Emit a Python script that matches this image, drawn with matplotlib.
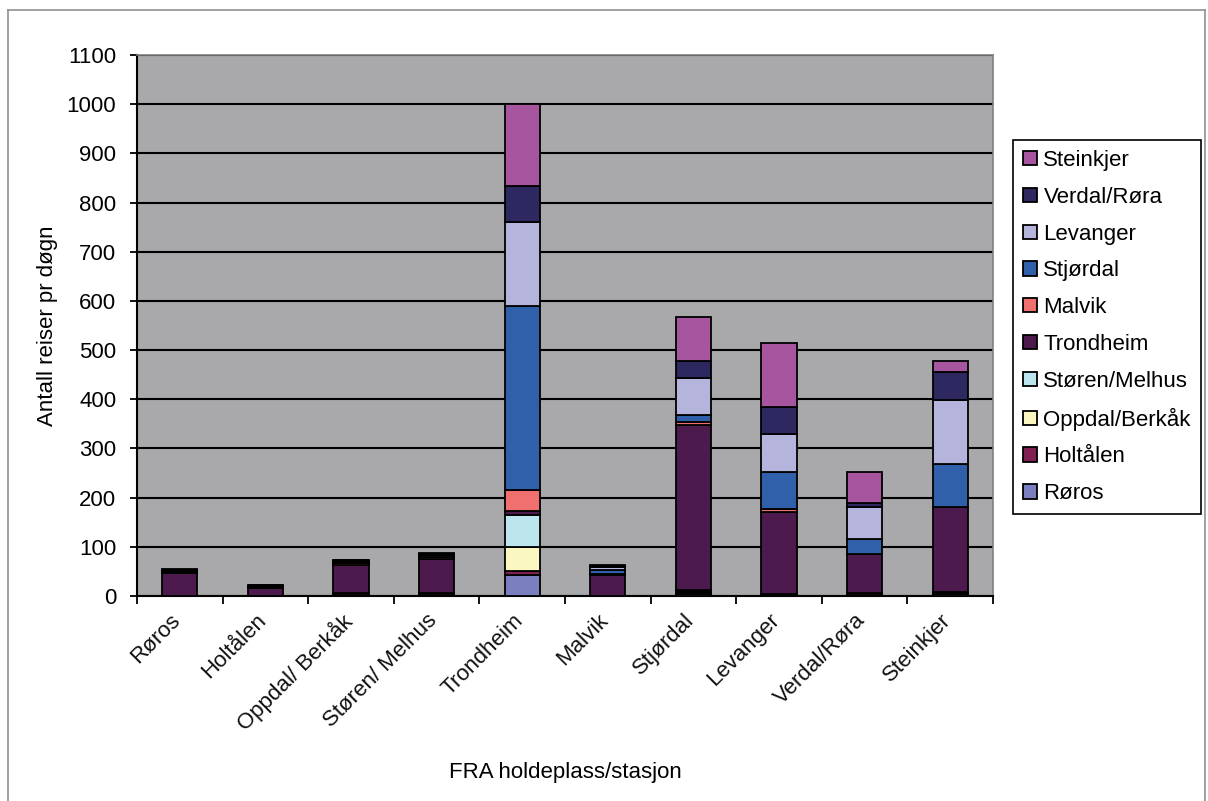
import matplotlib
matplotlib.use("Agg")
import matplotlib.pyplot as plt
import matplotlib.transforms as mtransforms
import numpy as np
from matplotlib.patches import Rectangle
from matplotlib.lines import Line2D

plt.rcParams['font.family'] = ['Liberation Sans', 'DejaVu Sans']

# FRA stations (x categories)
categories = ["Røros", "Holtålen", "Oppdal/ Berkåk", "Støren/ Melhus", "Trondheim",
              "Malvik", "Stjørdal", "Levanger", "Verdal/Røra", "Steinkjer"]

# Destination series (stacked bottom to top)
series_names = ["Røros", "Holtålen", "Oppdal/Berkåk", "Støren/Melhus", "Trondheim",
                "Malvik", "Stjørdal", "Levanger", "Verdal/Røra", "Steinkjer"]

roros      = [0, 0, 3, 3, 43, 1, 4, 3, 3, 4]
holtalen   = [0, 0, 3, 3, 8, 0, 4, 2, 3, 4]
oppdal     = [0, 0, 0, 1, 49, 0, 2, 0, 0, 0]
storen     = [0, 0, 0, 0, 65, 0, 2, 0, 0, 0]
trondheim  = [47, 16, 58, 69, 8, 41, 336, 166, 79, 173]
malvik     = [2, 2, 3, 3, 43, 2, 6, 6, 0, 0]
stjordal   = [2, 2, 3, 4, 373, 9, 15, 76, 31, 88]
levanger   = [1, 1, 2, 2, 171, 6, 75, 77, 65, 130]
verdal     = [1, 1, 1, 1, 73, 2, 33, 55, 8, 57]
steinkjer  = [1, 1, 1, 1, 167, 2, 91, 130, 64, 21]

yticks = list(range(0, 1101, 100))

colors = ["#7B7FC0", "#7F2050", "#FAF7C0", "#BDE5EE", "#4D1A4E",
          "#F07070", "#3060AA", "#B4B4DC", "#2E2860", "#A855A0"]

series = [roros, holtalen, oppdal, storen, trondheim, malvik, stjordal, levanger, verdal, steinkjer]

fig = plt.figure(figsize=(12.08, 8.01), dpi=100)
ax = fig.add_axes([137/1208, 1-596/801, (993-137)/1208, (596-55)/801])
ax.set_facecolor("#A9A9AB")

x = np.arange(len(categories))
bottom = np.zeros(len(categories))
for name, vals, c in zip(series_names, series, colors):
    v = np.array(vals, dtype=float)
    ax.bar(x, v, bottom=bottom, width=0.41, color=c, edgecolor="black",
           linewidth=1.3, label=name, zorder=3)
    bottom += v

ax.set_xlim(-0.5, len(categories) - 0.5)
ax.set_ylim(0, 1100)
ax.set_yticks(yticks)
ax.yaxis.grid(True, color="black", linewidth=1.5, zorder=1)
ax.set_axisbelow(True)
for s in ["top", "right"]:
    ax.spines[s].set_color("#808080")
    ax.spines[s].set_linewidth(1.2)
for s in ["left", "bottom"]:
    ax.spines[s].set_color("black")
    ax.spines[s].set_linewidth(1.5)

ax.tick_params(axis="y", direction="out", length=5, width=1.3, pad=10, labelsize=16)
ax.set_xticks(x)
ax.set_xticklabels(categories, rotation=45, ha="right", va="top",
                   rotation_mode="anchor", fontsize=16, color="#111111")
ax.tick_params(axis="x", length=0, pad=10)
offset = mtransforms.ScaledTranslation(-10/100, 0/100, fig.dpi_scale_trans)
for lab in ax.get_xticklabels():
    lab.set_transform(lab.get_transform() + offset)
ax.set_xticks(np.arange(-0.5, len(categories), 1), minor=True)
ax.tick_params(axis="x", which="minor", direction="out", length=6, width=1.3)

ax.set_ylabel("Antall reiser pr døgn", fontsize=16)
ax.yaxis.set_label_coords(-(137-58)/856, 0.5, transform=ax.transAxes)
ax.set_xlabel("FRA holdeplass/stasjon", fontsize=16)
ax.xaxis.set_label_coords(0.5, -(762-596)/541, transform=ax.transAxes)

leg_handles = [Rectangle((0, 0), 1, 1, facecolor=c, edgecolor="black", linewidth=1.3)
               for c in colors][::-1]
leg = fig.legend(leg_handles, series_names[::-1], loc="upper left",
                 bbox_to_anchor=(1013/1208, 1-140/801), bbox_transform=fig.transFigure,
                 borderaxespad=0, fontsize=16, frameon=True, fancybox=False,
                 edgecolor="black", framealpha=1, handlelength=0.62, handleheight=0.62,
                 handletextpad=0.3, labelspacing=0.71, borderpad=0.45)
leg.get_frame().set_linewidth(1.2)

# Outer border
fig.add_artist(Line2D([8/1208, 8/1208], [0, 1-10/801], transform=fig.transFigure,
                      color="#909090", linewidth=1.2))
fig.add_artist(Line2D([8/1208, 1205/1208], [1-10/801, 1-10/801], transform=fig.transFigure,
                      color="#909090", linewidth=1.2))
fig.add_artist(Line2D([1205/1208, 1205/1208], [0, 1-10/801], transform=fig.transFigure,
                      color="#909090", linewidth=1.2))

fig.savefig("out.png", dpi=100)
